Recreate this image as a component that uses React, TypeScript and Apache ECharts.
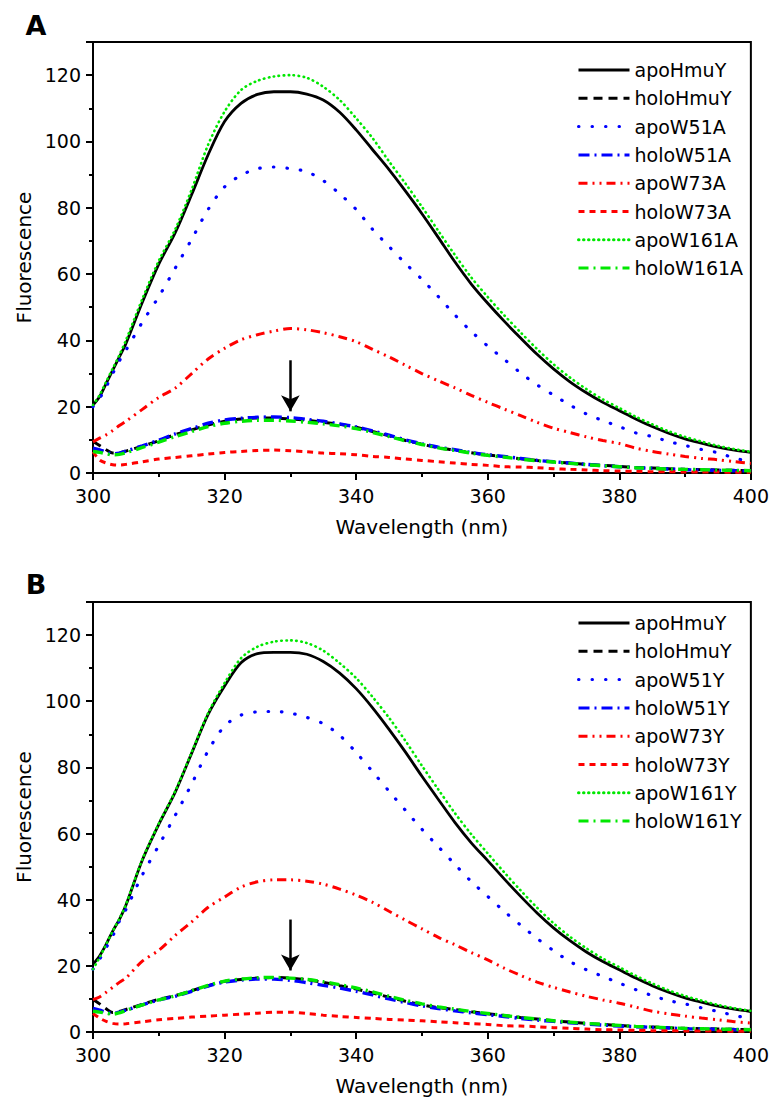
import React, { useEffect, useRef } from "react";
import * as echarts from "echarts";

const WAVELENGTH = [300, 301, 302, 303, 304, 305, 307.5, 310, 312.5, 315, 317.5, 320, 322.5, 325, 327.5, 330, 332.5, 335, 337.5, 340, 342.5, 345, 347.5, 350, 352.5, 355, 357.5, 360, 362.5, 365, 367.5, 370, 372.5, 375, 377.5, 380, 382.5, 385, 387.5, 390, 392.5, 395, 397.5, 400];

const X_TICKS = [300, 320, 340, 360, 380, 400];
const Y_TICKS = [0, 20, 40, 60, 80, 100, 120];

const NAMES_A = ["apoHmuY", "holoHmuY", "apoW51A", "holoW51A", "apoW73A", "holoW73A", "apoW161A", "holoW161A"];
const NAMES_B = ["apoHmuY", "holoHmuY", "apoW51Y", "holoW51Y", "apoW73Y", "holoW73Y", "apoW161Y", "holoW161Y"];

const A_apoHmuY = [20.5, 23, 27, 31, 35, 39, 51.5, 63, 72.5, 84, 96, 106, 111.5, 114.2, 115, 115, 114.3, 112.5, 108.8, 103.5, 97.5, 91.5, 85, 78.2, 71, 63.7, 57, 51.2, 45.8, 40.7, 35.8, 31.4, 27.5, 24.2, 21.3, 18.8, 16.3, 14, 12, 10.3, 9, 7.8, 6.9, 6.2];
const A_holoHmuY = [9.5, 8.3, 7, 6, 6.1, 6.6, 8.1, 9.7, 11.6, 13, 14.5, 15.6, 16.3, 16.6, 16.6, 16.3, 15.9, 15.3, 14.7, 13.8, 12.5, 11.2, 9.8, 8.7, 7.6, 6.9, 6.1, 5.4, 4.9, 4.3, 3.8, 3.4, 3, 2.6, 2.3, 2, 1.7, 1.5, 1.3, 1.1, 1, 0.9, 0.8, 0.7];
const A_apoW51A = [20, 22.5, 26, 30, 33.8, 37, 45.5, 53.2, 61.8, 70.5, 79.5, 86.3, 89.8, 91.8, 92.3, 91.8, 90.9, 88.2, 84.2, 79.5, 73.5, 68.3, 63.2, 58.4, 53.2, 47.7, 42.7, 38.3, 34.3, 30.2, 26.6, 23.5, 20.5, 17.8, 15.8, 14, 12.1, 11, 9.5, 8.3, 7.1, 6.1, 4.5, 3.4];
const A_holoW51A = [7.5, 7, 6.3, 5.8, 6, 6.6, 8.2, 9.9, 11.8, 13.4, 15, 16, 16.5, 16.8, 16.9, 16.7, 16.2, 15.6, 14.8, 13.9, 12.7, 11.4, 10, 8.8, 7.8, 7, 6.2, 5.5, 5, 4.4, 3.8, 3.4, 3, 2.6, 2.2, 1.9, 1.6, 1.4, 1.2, 1, 0.9, 0.8, 0.7, 0.6];
const A_apoW73A = [9.4, 10.5, 11.5, 12.8, 14.3, 15.6, 19.2, 22.8, 25.6, 30, 34.4, 37.6, 40.2, 41.7, 42.8, 43.6, 43.2, 42.3, 41.1, 39.6, 37.3, 35, 32.5, 30, 27.8, 25.7, 23.4, 21.3, 19.3, 17.3, 15.3, 13.5, 12.2, 10.9, 9.8, 8.9, 7.5, 6.5, 5.7, 5, 4.4, 4, 3.4, 2.9];
const A_holoW73A = [6.4, 3.9, 3, 2.5, 2.4, 2.6, 3.4, 4.2, 4.7, 5.2, 5.7, 6.2, 6.5, 6.8, 6.9, 6.7, 6.4, 6, 5.8, 5.5, 5, 4.7, 4.2, 3.8, 3.4, 3, 2.6, 2.3, 1.9, 1.8, 1.6, 1.3, 1.1, 0.9, 0.7, 0.6, 0.5, 0.4, 0.4, 0.3, 0.3, 0.3, 0.2, 0.2];
const A_apoW161A = [20.5, 23.5, 27.5, 31.5, 35.5, 40, 52.5, 64, 73.5, 85.5, 99, 109, 115.5, 118.3, 119.6, 120, 119.2, 116.5, 112.5, 107, 101, 94, 87.3, 80.3, 73, 65.8, 59, 53.1, 47.6, 42.4, 37.4, 32.8, 28.8, 25.3, 22.2, 19.6, 17, 14.7, 12.6, 10.9, 9.5, 8.2, 7.2, 6.4];
const A_holoW161A = [6.5, 6.2, 5.8, 5.5, 5.6, 6.1, 7.7, 9.3, 11, 12.5, 14, 15, 15.6, 15.9, 15.9, 15.7, 15.3, 14.8, 14.2, 13.4, 12.2, 11, 9.7, 8.6, 7.6, 6.8, 6, 5.3, 4.8, 4.2, 3.7, 3.3, 2.9, 2.5, 2.2, 1.9, 1.6, 1.4, 1.2, 1.1, 1, 0.9, 0.8, 0.7];

const B_apoHmuY = [20.5, 23, 26.5, 30.5, 34, 38.3, 52, 62.8, 72.5, 84.3, 96, 104.6, 111.6, 114.4, 114.8, 114.8, 114.2, 112, 108.5, 103.8, 98, 91.5, 84.6, 77.3, 70.3, 63.4, 57.2, 51.8, 46.3, 41, 36, 31.5, 27.6, 24.2, 21.3, 18.8, 16.3, 14, 12, 10.3, 9, 7.8, 6.9, 6.2];
const B_holoHmuY = [9.8, 8.5, 7, 5.9, 6.2, 6.8, 8.4, 9.9, 11, 12.5, 14, 15.3, 15.9, 16.3, 16.5, 16.3, 15.8, 15, 14, 13, 11.8, 10.5, 9.3, 8.2, 7.4, 6.8, 6.1, 5.5, 5, 4.4, 3.9, 3.4, 3, 2.6, 2.3, 2, 1.7, 1.5, 1.3, 1.1, 1, 0.9, 0.8, 0.7];
const B_apoW51Y = [19, 22, 25.5, 29, 33.5, 37, 47.5, 56.4, 65.5, 75, 85, 92.5, 95.8, 96.8, 96.9, 96.4, 95.1, 93.2, 89.7, 84.5, 78.7, 72.8, 67, 61.3, 56, 50.7, 45.5, 41, 36.5, 32.3, 28.3, 24.6, 21.3, 18.8, 16.8, 14.8, 12.8, 11, 9.5, 8.5, 7.3, 6.2, 5, 4];
const B_holoW51Y = [7.1, 6.6, 6, 5.6, 6, 6.6, 8.2, 9.7, 10.8, 12.3, 13.9, 15.1, 15.7, 16, 16, 15.6, 14.9, 14.1, 13.3, 12.3, 11.2, 10, 8.9, 7.9, 7.1, 6.4, 5.8, 5.2, 4.7, 4.1, 3.6, 3.2, 2.8, 2.4, 2.1, 1.8, 1.6, 1.4, 1.2, 1, 0.9, 0.8, 0.7, 0.6];
const B_apoW73Y = [9.8, 10.6, 12, 13.5, 15, 16.3, 21.4, 24.7, 29.2, 33.3, 37.7, 40.8, 43.8, 45.4, 46, 46, 45.6, 44.7, 43.2, 41.4, 39.2, 36.5, 33.8, 31.2, 28.6, 26.4, 24, 21.8, 19.3, 17.1, 15.1, 13.5, 12.1, 10.8, 9.7, 8.7, 7.5, 6.3, 5.5, 4.8, 4.2, 3.7, 3.1, 2.7];
const B_holoW73Y = [5.6, 4.2, 3.2, 2.6, 2.4, 2.5, 3.1, 3.7, 4.1, 4.5, 4.8, 5.1, 5.4, 5.7, 6, 6, 5.6, 5.1, 4.7, 4.4, 4.1, 3.8, 3.6, 3.4, 3.1, 2.8, 2.5, 2.3, 1.9, 1.8, 1.6, 1.3, 1.1, 0.9, 0.7, 0.6, 0.5, 0.4, 0.4, 0.3, 0.3, 0.3, 0.2, 0.2];
const B_apoW161Y = [19, 22.5, 26.5, 30.5, 34.2, 38.5, 52.2, 63, 72.8, 84.6, 96.4, 105.5, 113, 116.5, 118, 118.4, 117.6, 115.3, 111.5, 107, 101.3, 95, 88, 80.5, 73.3, 66.2, 59.8, 54, 48.3, 42.8, 37.6, 32.9, 28.8, 25.3, 22.2, 19.6, 17, 14.7, 12.6, 10.9, 9.5, 8.2, 7.2, 6.4];
const B_holoW161Y = [6.3, 6, 5.7, 5.4, 5.8, 6.5, 8.2, 9.7, 10.9, 12.5, 14.1, 15.4, 16, 16.4, 16.5, 16.3, 15.9, 15.2, 14.3, 13.3, 12.1, 10.8, 9.6, 8.5, 7.6, 6.9, 6.2, 5.6, 5, 4.4, 3.9, 3.4, 3, 2.6, 2.3, 2, 1.7, 1.5, 1.3, 1.1, 1, 0.9, 0.8, 0.7];

const VALUES_A = [A_apoHmuY, A_holoHmuY, A_apoW51A, A_holoW51A, A_apoW73A, A_holoW73A, A_apoW161A, A_holoW161A];
const VALUES_B = [B_apoHmuY, B_holoHmuY, B_apoW51Y, B_holoW51Y, B_apoW73Y, B_holoW73Y, B_apoW161Y, B_holoW161Y];

// arrow annotation (data coords): [wavelength, from, to]
const ARROW = [330, 34, 18.6];

const FONT = "DejaVu Sans";
const BLUE = "#0000ff";
const RED = "#ff0000";
const GREEN = "#00e800";

const STYLES: any[] = [
  { color: "#000", width: 2.8, type: "solid", cap: "butt" },
  { color: "#000", width: 3, type: [9, 6], cap: "butt" },
  { color: BLUE, width: 3.2, type: [0.5, 13], cap: "round" },
  { color: BLUE, width: 3.4, type: [11, 5, 2, 5], cap: "butt" },
  { color: RED, width: 3, type: [9, 5, 2, 5, 2, 5], cap: "butt" },
  { color: RED, width: 3, type: [6, 5], cap: "butt" },
  { color: GREEN, width: 2.6, type: [0.5, 4.5], cap: "round" },
  { color: GREEN, width: 3.4, type: [10, 5, 2, 5], cap: "butt" },
];

const GRIDS = [
  { left: 93, top: 42, width: 670, height: 431 },
  { left: 93, top: 602, width: 670, height: 430 },
];

export default function App() {
  const ref = useRef<HTMLDivElement>(null);
  useEffect(() => {
    const chart = echarts.init(ref.current!, null, { renderer: "svg" });

    const xAxes = GRIDS.map((_, gi) => ({
      type: "value",
      gridIndex: gi,
      min: X_TICKS[0],
      max: X_TICKS[X_TICKS.length - 1],
      interval: X_TICKS[1] - X_TICKS[0],
      name: "Wavelength (nm)",
      nameLocation: "middle",
      nameGap: 44,
      nameTextStyle: { fontFamily: FONT, fontSize: 20, color: "#000" },
      axisLine: { show: true, onZero: false, lineStyle: { color: "#000", width: 2 } },
      axisTick: { show: true, length: 7, lineStyle: { color: "#000", width: 2 } },
      minorTick: { show: true, splitNumber: 2, length: 4, lineStyle: { color: "#000", width: 2 } },
      splitLine: { show: false },
      axisLabel: { margin: 13, fontFamily: FONT, fontSize: 19, color: "#000" },
    }));

    const yAxes = GRIDS.map((_, gi) => ({
      type: "value",
      gridIndex: gi,
      min: 0,
      max: 130,
      interval: Y_TICKS[1] - Y_TICKS[0],
      name: "Fluorescence",
      nameLocation: "middle",
      nameGap: 54,
      nameTextStyle: { fontFamily: FONT, fontSize: 20, color: "#000" },
      axisLine: { show: true, onZero: false, lineStyle: { color: "#000", width: 2 } },
      axisTick: { show: true, length: 7, lineStyle: { color: "#000", width: 2 } },
      minorTick: { show: true, splitNumber: 2, length: 4, lineStyle: { color: "#000", width: 2 } },
      splitLine: { show: false },
      axisLabel: { margin: 12, fontFamily: FONT, fontSize: 19, color: "#000", showMaxLabel: false },
    }));

    const series: any[] = [];
    [VALUES_A, VALUES_B].forEach((vals, gi) => {
      const names = gi === 0 ? NAMES_A : NAMES_B;
      vals.forEach((v, i) => {
        const st = STYLES[i];
        const s: any = {
          type: "line",
          name: names[i],
          xAxisIndex: gi,
          yAxisIndex: gi,
          data: WAVELENGTH.map((x, k) => [x, v[k]]),
          symbol: "none",
          showSymbol: false,
          smooth: 0.3,
          lineStyle: { color: st.color, width: st.width, type: st.type, cap: st.cap },
          itemStyle: { color: st.color },
          z: 2,
        };
        if (i === 0) {
          s.markLine = {
            silent: true,
            symbol: ["none", "arrow"],
            symbolSize: [14, 16],
            label: { show: false },
            lineStyle: { color: "#000", width: 2.5, type: "solid" },
            data: [[{ coord: [ARROW[0], ARROW[1]] }, { coord: [ARROW[0], ARROW[2]] }]],
            z: 5,
          };
        }
        series.push(s);
      });
    });

    const legends = GRIDS.map((g, gi) => ({
      orient: "vertical",
      left: 572,
      top: gi === 0 ? 55 : 608,
      itemWidth: 51,
      itemHeight: 20,
      itemGap: 8.3,
      selectedMode: false,
      data: gi === 0 ? NAMES_A : NAMES_B,
      itemStyle: { opacity: 0 },
      textStyle: { fontFamily: FONT, fontSize: 19, color: "#000", lineHeight: 20 },
      lineStyle: { width: 3 },
    }));

    const option: any = {
      animation: false,
      backgroundColor: "#fff",
      grid: GRIDS.map((g) => ({ ...g, show: true, borderColor: "#000", borderWidth: 2, backgroundColor: "transparent" })),
      xAxis: xAxes,
      yAxis: yAxes,
      legend: legends,
      series,
      graphic: [
        { type: "text", x: 36, y: 25, style: { text: "A", font: `bold 27px "${FONT}"`, fill: "#000", align: "center", verticalAlign: "middle" } },
        { type: "text", x: 36, y: 584, style: { text: "B", font: `bold 27px "${FONT}"`, fill: "#000", align: "center", verticalAlign: "middle" } },
      ],
    };
    chart.setOption(option);
    return () => chart.dispose();
  }, []);
  return <div ref={ref} style={{ position: "absolute", left: 0, top: 0, width: 772, height: 1103 }} />;
}
